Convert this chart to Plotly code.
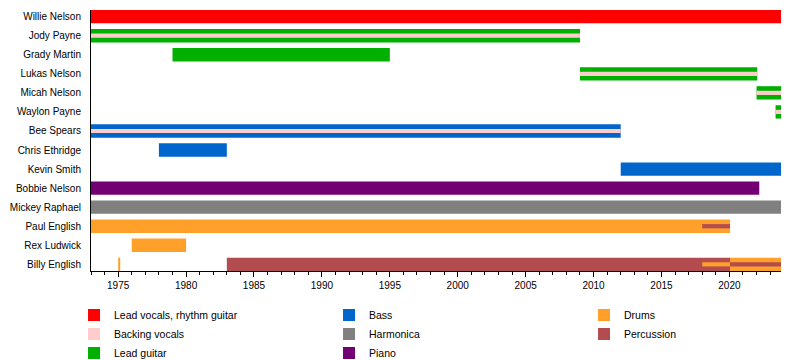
import plotly.graph_objects as go

END = 2023.8  # "present" on the timeline

members = ["Willie Nelson", "Jody Payne", "Grady Martin", "Lukas Nelson", "Micah Nelson",
           "Waylon Payne", "Bee Spears", "Chris Ethridge", "Kevin Smith", "Bobbie Nelson",
           "Mickey Raphael", "Paul English", "Rex Ludwick", "Billy English"]

roles = ["Lead vocals, rhythm guitar", "Bass", "Drums",
         "Backing vocals", "Harmonica", "Percussion",
         "Lead guitar", "Piano"]
role_colors = ["#FF0000", "#0066CC", "#FFA02A",
               "#FFCCCC", "#808080", "#B34C4E",
               "#00B000", "#730073"]

# bar segments (member, role, start, end); main bars
main_member = ["Willie Nelson", "Jody Payne", "Grady Martin", "Lukas Nelson", "Micah Nelson",
               "Waylon Payne", "Bee Spears", "Chris Ethridge", "Kevin Smith", "Bobbie Nelson",
               "Mickey Raphael", "Paul English", "Rex Ludwick", "Billy English",
               "Billy English", "Billy English"]
main_role = ["Lead vocals, rhythm guitar", "Lead guitar", "Lead guitar", "Lead guitar", "Lead guitar",
             "Lead guitar", "Bass", "Bass", "Bass", "Piano",
             "Harmonica", "Drums", "Drums", "Drums",
             "Percussion", "Drums"]
main_start = [1973, 1973, 1979, 2009, 2022, 2023.4, 1973, 1978, 2012, 1973,
              1973, 1973, 1976, 1975.0, 1983, 2020.05]
main_end = [END, 2009, 1995, 2022.05, END, END, 2012, 1983, END, 2022.2,
            END, 2020.05, 1980, 1975.15, 2020.05, END]

# secondary roles drawn as thin stripes inside the main bars
stripe_member = ["Jody Payne", "Lukas Nelson", "Micah Nelson", "Waylon Payne", "Bee Spears",
                 "Paul English", "Billy English", "Billy English"]
stripe_role = ["Backing vocals", "Backing vocals", "Backing vocals", "Backing vocals", "Backing vocals",
               "Percussion", "Drums", "Percussion"]
stripe_start = [1973, 2009, 2022, 2023.4, 1973, 2018, 2018, 2020.05]
stripe_end = [2009, 2022.05, END, END, 2012, 2020.05, 2020.05, END]

tick_years = [1975, 1980, 1985, 1990, 1995, 2000, 2005, 2010, 2015, 2020]

fig = go.Figure()
shown = set()


def add_layer(mem, rol, st, en, width):
    for r, c in zip(roles, role_colors):
        idx = [i for i in range(len(mem)) if rol[i] == r]
        if not idx:
            continue
        show = r not in shown
        shown.add(r)
        fig.add_trace(go.Bar(
            orientation="h",
            y=[mem[i] for i in idx],
            base=[st[i] for i in idx],
            x=[en[i] - st[i] for i in idx],
            width=width,
            name=r,
            legendgroup=r,
            showlegend=show,
            legendrank=roles.index(r) + 1,
            marker=dict(color=c, line=dict(width=0)),
            hoverinfo="skip",
        ))


add_layer(main_member, main_role, main_start, main_end, 0.7)
add_layer(stripe_member, stripe_role, stripe_start, stripe_end, 0.22)

# the page body has an 8px margin, so the figure is a bit smaller than the window
fig.update_layout(
    width=792, height=352,
    margin=dict(l=83, r=19, t=2, b=89, autoexpand=False),
    barmode="overlay",
    paper_bgcolor="white", plot_bgcolor="white",
    font=dict(family="Liberation Sans, Arial, sans-serif", size=10.5, color="#000000"),
    showlegend=True,
    legend=dict(
        orientation="h", x=-0.0246, xanchor="left", y=-0.1133, yanchor="top",
        entrywidth=210, entrywidthmode="pixels",
        font=dict(size=10.5, color="#000000"),
        bgcolor="rgba(0,0,0,0)",
        traceorder="normal", itemclick=False, itemdoubleclick=False,
    ),
)

fig.update_xaxes(
    range=[1973, END], showgrid=False, zeroline=False, automargin=False,
    showline=True, linecolor="black", linewidth=1,
    tickmode="array", tickvals=tick_years, ticktext=[str(t) for t in tick_years],
    ticks="outside", ticklen=5, tickcolor="black", tickwidth=1,
    minor=dict(tickmode="linear", tick0=1973, dtick=1, ticks="outside", ticklen=3,
               tickcolor="black", tickwidth=1, showgrid=False),
    tickfont=dict(size=10, color="#000000"),
)
fig.update_yaxes(
    type="category", categoryorder="array", categoryarray=members,
    range=[len(members) - 1 + 0.35, -0.35], automargin=False,
    showgrid=False, zeroline=False,
    showline=True, linecolor="black", linewidth=1,
    ticks="", ticklabelstandoff=7,
    tickfont=dict(size=10, color="#000000"),
)

fig.write_html("out.html")
